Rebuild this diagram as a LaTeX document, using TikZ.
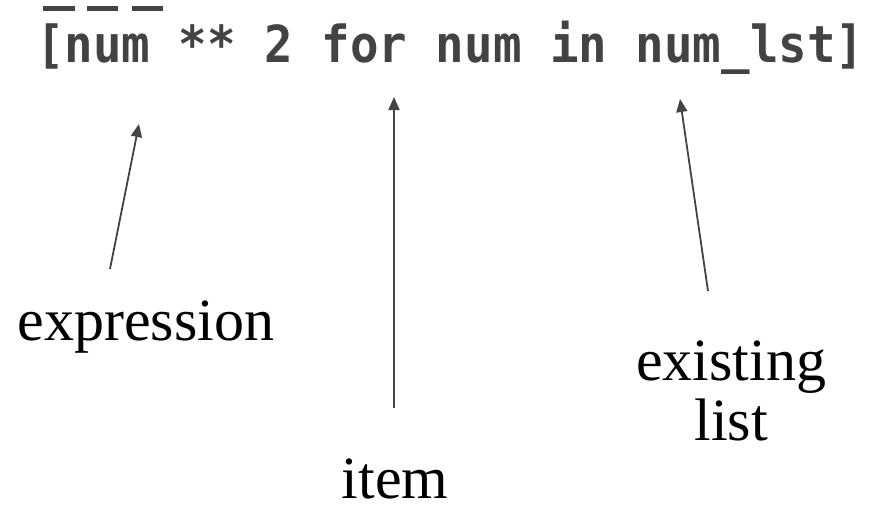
\documentclass[tikz,border=0pt]{standalone}
\usepackage{fontspec}
\setmainfont{Liberation Serif}
\newfontfamily\codefont[FakeStretch=0.93]{DejaVu Sans Mono Bold}
\usetikzlibrary{arrows.meta}
\definecolor{ink}{HTML}{434343}
\tikzset{
  code/.style={anchor=base west, inner sep=0pt, text=ink,
    font=\codefont\fontsize{51}{51}\selectfont},
  label/.style={anchor=base, inner sep=0pt, text=black, align=center,
    font=\fontsize{60}{60}\selectfont},
  pointer/.style={draw=ink, line width=1.8pt,
    -{Triangle[length=13pt,width=11pt]}},
  dashmark/.style={draw=ink, line width=4.5pt}
}
\begin{document}
\begin{tikzpicture}[x=1pt,y=-1pt]
  \useasboundingbox (0,0) rectangle (871,507);
  % placeholder dashes above the comprehension
  \draw[dashmark] (43,8.5) -- (75,8.5);
  \draw[dashmark] (87,8.5) -- (118,8.5);
  \draw[dashmark] (132,8.5) -- (163,8.5);
  % the list comprehension
  \node[code] (comp) at (36,62) {[num ** 2 for num in num\_lst]};
  % labels
  \node[label] (expr) at (146,340) {expression};
  \node[label] (item) at (395,498) {item};
  \node[label] (exist) at (731,440) {existing\\list};
  % arrow ends
  \coordinate (exprTail) at (110,269);
  \coordinate (exprTip) at (139,124);
  \coordinate (itemTail) at (394,408);
  \coordinate (itemTip) at (394,97);
  \coordinate (existTail) at (708,291);
  \coordinate (existTip) at (680,99);
  \draw[pointer] (exprTail) -- (exprTip);
  \draw[pointer] (itemTail) -- (itemTip);
  \draw[pointer] (existTail) -- (existTip);
\end{tikzpicture}
\end{document}
